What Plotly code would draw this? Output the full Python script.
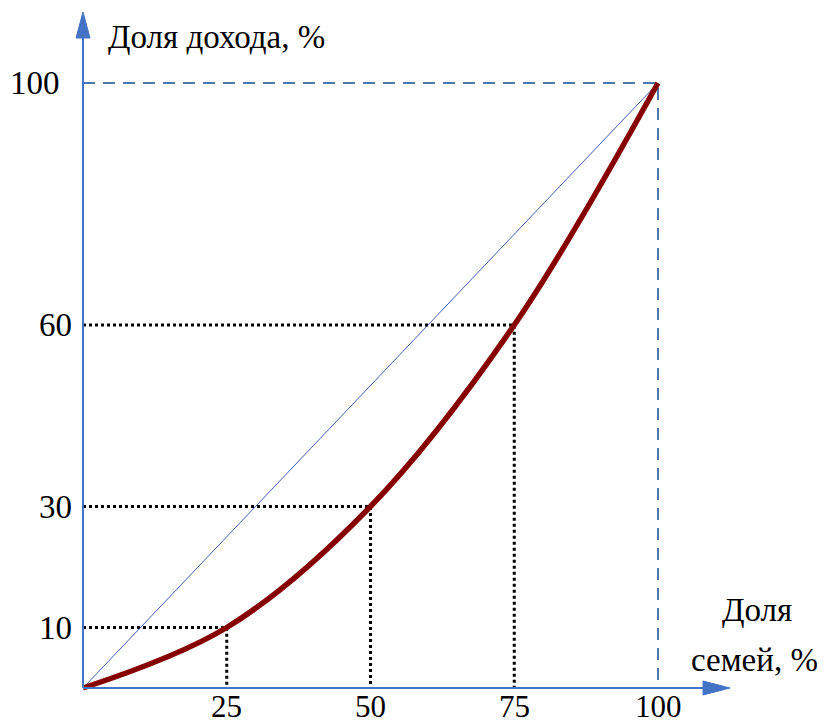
import plotly.graph_objects as go

# Data
families = [0, 25, 50, 75, 100]          # Доля семей, %
income = [0, 10, 30, 60, 100]            # Доля дохода, %
x_ticks = [25, 50, 75, 100]
y_ticks = [10, 30, 60, 100]
x_title_lines = ["Доля", "семей, %"]
y_title = "Доля дохода, %"

FONT = "Liberation Serif, Times New Roman, serif"
FS = 33
AX_BLUE = "#4472C4"
DASH_BLUE = "#4F78B0"
CURVE = "#860000"

# the page draws the figure shifted by the 8px body margin
OFF = 8
W, H = 825, 728
x0p, x100p = 83, 658      # page pixels of x=0 and x=100
y0p, y100p = 688, 83      # page pixels of y=0 and y=100
sx = (x100p - x0p) / 100.0
sy = (y0p - y100p) / 100.0


def X(p):
    return (p - x0p) / sx


def Y(p):
    return (y0p - p) / sy


xr = [X(OFF), X(OFF + W)]
yr = [Y(OFF + H), Y(OFF)]

fig = go.Figure()

# equality diagonal
fig.add_trace(go.Scatter(x=[families[0], families[-1]], y=[income[0], income[-1]],
                         mode="lines", line=dict(color="#3F5FB5", width=1),
                         hoverinfo="skip"))

# dashed frame at 100
fig.add_trace(go.Scatter(x=[0, families[-1], families[-1]], y=[income[-1], income[-1], 0],
                         mode="lines", line=dict(color=DASH_BLUE, width=2, dash="12px,8px"),
                         hoverinfo="skip"))

# dotted guides
for fx, iy in zip(families[1:-1], income[1:-1]):
    fig.add_trace(go.Scatter(x=[0, fx, fx], y=[iy, iy, 0], mode="lines",
                             line=dict(color="black", width=3, dash="3px,3px"),
                             hoverinfo="skip"))

# Lorenz curve
fig.add_trace(go.Scatter(x=families, y=income, mode="lines",
                         line=dict(color=CURVE, width=5.5, shape="spline", smoothing=1.0),
                         hoverinfo="skip"))

shapes = []
# axis lines
shapes.append(dict(type="line", xref="x", yref="y", x0=0, y0=0, x1=X(705), y1=0,
                   line=dict(color=AX_BLUE, width=2)))
shapes.append(dict(type="line", xref="x", yref="y", x0=0, y0=0, x1=0, y1=Y(36),
                   line=dict(color=AX_BLUE, width=2)))
# arrow heads
shapes.append(dict(type="path", xref="x", yref="y",
                   path=f"M {X(730)},0 L {X(703)},{Y(y0p - 7)} L {X(703)},{Y(y0p + 7)} Z",
                   fillcolor=AX_BLUE, line=dict(color=AX_BLUE, width=1)))
shapes.append(dict(type="path", xref="x", yref="y",
                   path=f"M 0,{Y(12)} L {X(x0p - 7)},{Y(38)} L {X(x0p + 7)},{Y(38)} Z",
                   fillcolor=AX_BLUE, line=dict(color=AX_BLUE, width=1)))

annotations = []
tfont = dict(family=FONT, size=FS, color="black")
xfont = dict(family=FONT, size=31, color="black")
# y tick labels
for v in y_ticks:
    right = 62 if v >= 100 else 74
    annotations.append(dict(x=X(right), y=v, xref="x", yref="y", text=str(v),
                            showarrow=False, xanchor="right", yanchor="middle", font=tfont))
# x tick labels
for v in x_ticks:
    annotations.append(dict(x=v, y=Y(706), xref="x", yref="y", text=str(v),
                            showarrow=False, xanchor="center", yanchor="middle", font=xfont))

# axis titles
annotations.append(dict(x=X(106), y=Y(37), xref="x", yref="y", text=y_title,
                        showarrow=False, xanchor="left", yanchor="middle", font=tfont))
annotations.append(dict(x=X(757), y=Y(610), xref="x", yref="y", text=x_title_lines[0],
                        showarrow=False, xanchor="center", yanchor="middle", font=tfont))
annotations.append(dict(x=X(754), y=Y(660), xref="x", yref="y", text=x_title_lines[1],
                        showarrow=False, xanchor="center", yanchor="middle", font=tfont))

fig.update_layout(
    width=W, height=H,
    margin=dict(l=0, r=0, t=0, b=0),
    paper_bgcolor="white", plot_bgcolor="white",
    showlegend=False,
    xaxis=dict(range=xr, visible=False, fixedrange=True),
    yaxis=dict(range=yr, visible=False, fixedrange=True),
    shapes=shapes,
    annotations=annotations,
)

fig.write_html("out.html")
